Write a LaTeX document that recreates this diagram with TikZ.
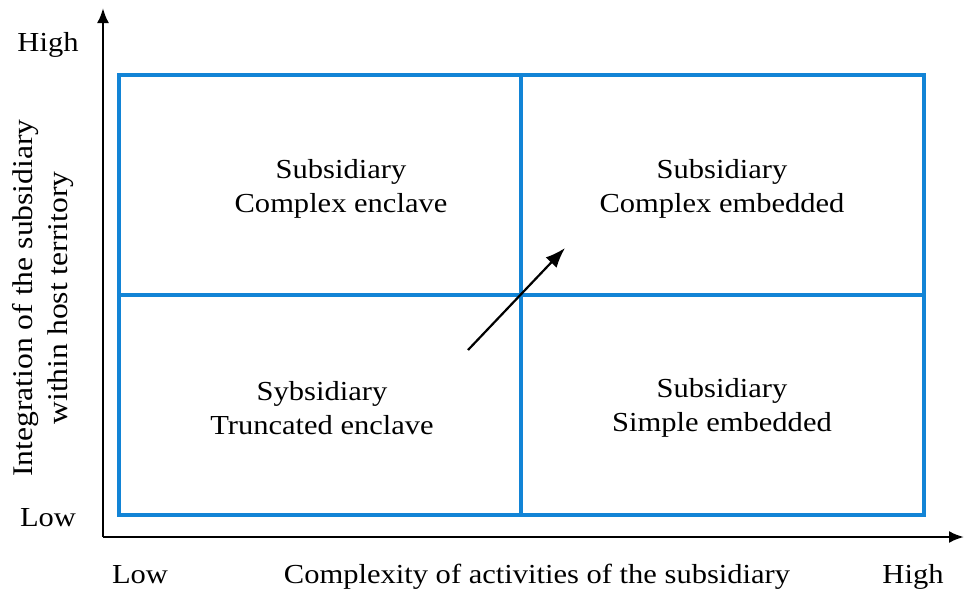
\documentclass[tikz,border=0pt]{standalone}
\usepackage{fontspec}
\setmainfont[FakeStretch=1.11]{Liberation Serif}
\usetikzlibrary{arrows.meta}
\definecolor{gridblue}{RGB}{18,132,214}
\begin{document}
\begin{tikzpicture}[x=1pt,y=-1pt,
  axis/.style={line width=2.5pt,-{Latex[length=15pt,width=12pt]}},
  cell/.style={draw=gridblue,line width=3.5pt},
  lbl/.style={font=\fontsize{27.5}{34}\selectfont,inner sep=0pt},
  celltext/.style={lbl,align=center}]
  \useasboundingbox (0,0) rectangle (964,589);
  % axes
  \coordinate (origin) at (103,537);
  \coordinate (ytip) at (103,8);
  \coordinate (xtip) at (964,537);
  \draw[axis] (origin) -- (ytip);
  \draw[axis] (origin) -- (xtip);
  % quadrant grid
  \draw[cell] (119,75) rectangle (924,515);
  \coordinate (vtop) at (521,75);
  \coordinate (vbot) at (521,515);
  \coordinate (hleft) at (119,295);
  \coordinate (hright) at (924,295);
  \draw[cell] (vtop) -- (vbot);
  \draw[cell] (hleft) -- (hright);
  % trajectory arrow
  \coordinate (trajstart) at (468,350);
  \coordinate (trajend) at (565,248);
  \draw[line width=2.2pt,-{Latex[length=20pt,width=15pt]}] (trajstart) -- (trajend);
  % quadrant labels
  \node[celltext] (q1) at (341,189) {Subsidiary\\Complex enclave};
  \node[celltext] (q2) at (722,189) {Subsidiary\\Complex embedded};
  \node[celltext] (q3) at (322,408) {Sybsidiary\\Truncated enclave};
  \node[celltext] (q4) at (722,408) {Subsidiary\\Simple embedded};
  % axis labels
  \node[lbl] (yhigh) at (48,45) {High};
  \node[lbl] (ylow) at (48,518) {Low};
  \node[lbl,anchor=base] (xlow) at (140,583) {Low};
  \node[lbl,anchor=base] (xhigh) at (913,583) {High};
  \node[lbl,anchor=base] (xtitle) at (537,583) {Complexity of activities of the subsidiary};
  \node[lbl,align=center,rotate=90,font=\fontsize{28.5}{35}\selectfont] (ytitle) at (43,298) {Integration of the subsidiary\\within host territory};
\end{tikzpicture}
\end{document}
